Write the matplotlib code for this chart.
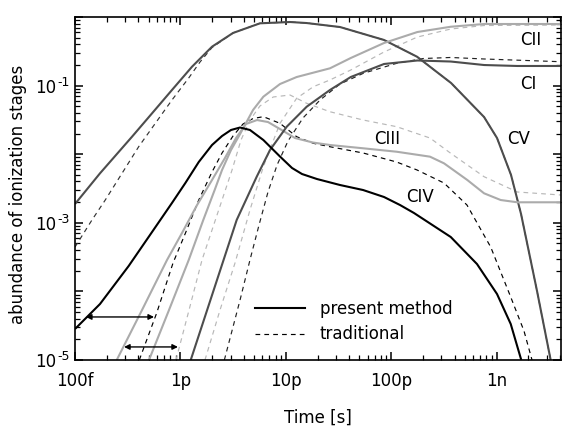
import numpy as np
import matplotlib
matplotlib.use('Agg')
import matplotlib.pyplot as plt
from matplotlib.lines import Line2D
from matplotlib.ticker import FixedLocator, FixedFormatter, LogLocator, NullFormatter

plt.rcParams['font.family'] = ['DejaVu Sans']

# ---- data: log10(time [s]) and log10(abundance) ----
cv_solid_logt = [-13.0, -12.763, -12.459, -12.269, -12.080, -11.890, -11.700, -11.501, -11.245,
                 -10.960, -10.802, -10.486, -10.068, -9.755, -9.432, -9.119, -8.996, -8.863, -8.768, -8.617, -8.487]
cv_solid_loga = [-2.726, -2.279, -1.745, -1.404, -1.064, -0.725, -0.433, -0.233, -0.092,
                 -0.073, -0.088, -0.146, -0.335, -0.579, -0.962, -1.458, -1.764, -2.303, -2.872, -3.990, -5.0]

cv_trad_logt = [-13.0, -12.839, -12.713, -12.554, -12.396, -12.238, -12.080, -11.921, -11.814, -11.700,
                -11.501, -11.245, -10.960, -10.802, -10.486, -10.068, -9.755, -9.432, -9.119, -8.996, -8.863,
                -8.768, -8.617, -8.487]
cv_trad_loga = [-3.353, -2.959, -2.668, -2.279, -1.891, -1.550, -1.210, -0.889, -0.656, -0.445,
                -0.233, -0.092, -0.073, -0.088, -0.146, -0.335, -0.579, -0.962, -1.458, -1.764, -2.303,
                -2.872, -3.990, -5.0]

civ_solid_logt = [-13.0, -12.886, -12.763, -12.491, -12.269, -12.080, -11.953, -11.826, -11.700, -11.605,
                  -11.520, -11.434, -11.340, -11.213, -11.055, -10.941, -10.846, -10.704, -10.486, -10.267,
                  -10.068, -9.916, -9.784, -9.435, -9.186, -8.996, -8.866, -8.766]
civ_solid_loga = [-4.548, -4.373, -4.184, -3.630, -3.134, -2.711, -2.420, -2.114, -1.866, -1.735,
                  -1.647, -1.611, -1.647, -1.793, -2.034, -2.201, -2.289, -2.362, -2.449, -2.522,
                  -2.624, -2.741, -2.857, -3.207, -3.601, -4.038, -4.475, -5.0]

civ_trad_logt = [-12.390, -12.225, -12.070, -11.953, -11.826, -11.700, -11.605, -11.501, -11.406, -11.311,
                 -11.213, -11.055, -10.897, -10.739, -10.581, -10.265, -9.948, -9.755, -9.499, -9.281,
                 -9.056, -8.866, -8.740, -8.664]
civ_trad_loga = [-5.0, -4.315, -3.586, -3.153, -2.668, -2.259, -1.983, -1.735, -1.560, -1.480,
                 -1.453, -1.550, -1.745, -1.841, -1.891, -1.983, -2.114, -2.230, -2.420, -2.741,
                 -3.353, -4.082, -4.577, -5.0]

ciii_solid_logt = [-12.604, -12.364, -12.127, -11.985, -11.842, -11.700, -11.577, -11.472, -11.378, -11.273,
                   -11.169, -11.055, -10.913, -10.742, -10.581, -10.265, -9.948, -9.632, -9.499, -9.278,
                   -9.119, -8.961, -8.803, -8.389]
ciii_solid_loga = [-5.0, -4.271, -3.542, -3.149, -2.741, -2.376, -2.055, -1.764, -1.560, -1.502,
                   -1.531, -1.633, -1.764, -1.830, -1.866, -1.914, -1.964, -2.036, -2.133, -2.376,
                   -2.570, -2.668, -2.701, -2.701]

ciii_trad_logt = [-12.042, -11.918, -11.795, -11.700, -11.605, -11.510, -11.425, -11.340, -11.245, -11.119,
                  -10.960, -10.802, -10.581, -10.265, -9.948, -9.632, -9.435, -9.119, -8.803, -8.389]
ciii_trad_loga = [-5.0, -4.271, -3.542, -3.105, -2.668, -2.230, -1.793, -1.502, -1.297, -1.166,
                  -1.137, -1.258, -1.381, -1.502, -1.599, -1.764, -1.987, -2.328, -2.551, -2.595]

cii_solid_logt = [-12.298, -12.108, -11.921, -11.783, -11.675, -11.605, -11.520, -11.434, -11.311, -11.213,
                  -11.055, -10.897, -10.581, -10.384, -10.068, -9.752, -9.435, -9.119, -8.389]
cii_solid_loga = [-5.0, -4.271, -3.542, -2.959, -2.522, -2.230, -1.939, -1.706, -1.356, -1.162,
                  -0.977, -0.875, -0.748, -0.598, -0.379, -0.219, -0.142, -0.102, -0.102]

cii_trad_logt = [-11.767, -11.624, -11.482, -11.340, -11.213, -11.055, -10.897, -10.739, -10.581, -10.384,
                 -10.068, -9.752, -9.435, -9.119, -8.389]
cii_trad_loga = [-5.0, -4.271, -3.586, -2.813, -2.182, -1.550, -1.185, -1.016, -0.918, -0.773,
                 -0.510, -0.292, -0.175, -0.124, -0.117]

ci_solid_logt = [-11.902, -11.684, -11.466, -11.276, -11.150, -10.991, -10.802, -10.581, -10.384, -10.068,
                 -9.752, -9.435, -9.119, -8.803, -8.389]
ci_solid_loga = [-5.0, -3.980, -2.959, -2.328, -1.939, -1.599, -1.308, -1.064, -0.875, -0.685,
                 -0.634, -0.649, -0.700, -0.714, -0.714]

ci_trad_logt = [-11.583, -11.434, -11.340, -11.254, -11.169, -11.083, -10.979, -10.837, -10.675, -10.486,
                -10.265, -9.948, -9.695, -9.435, -9.119, -8.389]
ci_trad_loga = [-5.0, -4.125, -3.542, -3.032, -2.551, -2.158, -1.808, -1.472, -1.210, -0.977,
                -0.821, -0.675, -0.605, -0.590, -0.612, -0.652]

# shift arrows (time from, time to, abundance)
arrow_t_start = [1.27e-13, 2.92e-13]
arrow_t_end = [5.62e-13, 9.48e-13]
arrow_level = [4.24e-5, 1.55e-5]

xtick_values = [1e-13, 1e-12, 1e-11, 1e-10, 1e-9]
xtick_labels = ['100f', '1p', '10p', '100p', '1n']
ytick_values = [1e-5, 1e-4, 1e-3, 1e-2, 1e-1, 1e0]
ytick_labels = ['10', '', '10', '', '10', '']
ytick_exponents = ['-5', '', '-3', '', '-1', '']

stage_names = ['CII', 'CI', 'CV', 'CIII', 'CIV']
stage_label_pos = [(0.938, 0.933), (0.932, 0.805), (0.912, 0.644), (0.642, 0.644), (0.710, 0.475)]

DARK = '#4d4d4d'
LIGHT = '#ababab'
LIGHT_D = '#b8b8b8'
FS = 12

fig = plt.figure(figsize=(5.68, 4.28), dpi=100)
ax = fig.add_axes([75 / 568, 68 / 428, 486 / 568, 343 / 428])

def p(lt, la):
    return 10 ** np.asarray(lt), 10 ** np.asarray(la)

solid_kw = dict(lw=1.5, solid_capstyle='butt', solid_joinstyle='round')
dash_kw = dict(lw=0.85, ls=(0, (4, 3.5)))

# traditional (dashed)
ax.plot(*p(cv_trad_logt, cv_trad_loga), color='#333333', **dash_kw)
ax.plot(*p(civ_trad_logt, civ_trad_loga), color='black', **dash_kw)
ax.plot(*p(ciii_trad_logt, ciii_trad_loga), color=LIGHT_D, **dash_kw)
ax.plot(*p(cii_trad_logt, cii_trad_loga), color=LIGHT_D, **dash_kw)
ax.plot(*p(ci_trad_logt, ci_trad_loga), color='#222222', **dash_kw)
# present method (solid)
ax.plot(*p(cv_solid_logt, cv_solid_loga), color=DARK, **solid_kw)
ax.plot(*p(ciii_solid_logt, ciii_solid_loga), color=LIGHT, **solid_kw)
ax.plot(*p(cii_solid_logt, cii_solid_loga), color=LIGHT, **solid_kw)
ax.plot(*p(ci_solid_logt, ci_solid_loga), color=DARK, **solid_kw)
ax.plot(*p(civ_solid_logt, civ_solid_loga), color='black', **solid_kw)

for t0, t1, lev in zip(arrow_t_start, arrow_t_end, arrow_level):
    ax.annotate('', xy=(t1, lev), xytext=(t0, lev),
                arrowprops=dict(arrowstyle='<|-|>', color='black', lw=1.0,
                                mutation_scale=8, shrinkA=0, shrinkB=0))

for name, (fx, fy) in zip(stage_names, stage_label_pos):
    ax.text(fx, fy, name, transform=ax.transAxes, ha='center', va='center', fontsize=FS)

ax.set_xscale('log')
ax.set_yscale('log')
ax.set_xlim(1e-13, 10 ** -8.389)
ax.set_ylim(1e-5, 1.0)

ax.xaxis.set_major_locator(FixedLocator(xtick_values))
ax.xaxis.set_major_formatter(FixedFormatter(xtick_labels))
ax.xaxis.set_minor_locator(LogLocator(base=10, subs=np.arange(2, 10), numticks=30))
ax.xaxis.set_minor_formatter(NullFormatter())
ax.yaxis.set_major_locator(FixedLocator(ytick_values))
ax.yaxis.set_major_formatter(FixedFormatter(ytick_labels))
ax.yaxis.set_minor_locator(LogLocator(base=10, subs=np.arange(2, 10), numticks=30))
ax.yaxis.set_minor_formatter(NullFormatter())

ax.tick_params(which='both', direction='in', top=True, right=True, labelsize=FS)
ax.tick_params(which='major', length=6, width=1.1)
ax.tick_params(which='minor', length=3.5, width=0.9)
ax.tick_params(axis='x', which='major', pad=9)
ax.tick_params(axis='y', which='major', pad=13.2)
for s in ax.spines.values():
    s.set_linewidth(1.2)

# superscript exponents of the y tick labels
for val, ex in zip(ytick_values, ytick_exponents):
    if ex:
        ax.annotate(ex, xy=(0, val), xycoords=('axes fraction', 'data'),
                    xytext=(-12.5, 2.4), textcoords='offset points',
                    ha='left', va='center', fontsize=9, annotation_clip=False)

ax.set_xlabel('Time [s]', fontsize=FS)
ax.xaxis.set_label_coords(0.5, -0.143)
ax.set_ylabel('abundance of ionization stages', fontsize=FS)
ax.yaxis.set_label_coords(-0.099, 0.4825)

handles = [Line2D([], [], color='black', lw=1.5),
           Line2D([], [], color='black', lw=0.85, ls=(0, (4, 3.5)))]
ax.legend(handles, ['present method', 'traditional'], loc='upper left',
          bbox_to_anchor=(0.370, 0.175), frameon=False, fontsize=FS,
          handlelength=3.0, handletextpad=0.9, borderpad=0, borderaxespad=0,
          labelspacing=0.45)

fig.savefig('out.png', dpi=100)
